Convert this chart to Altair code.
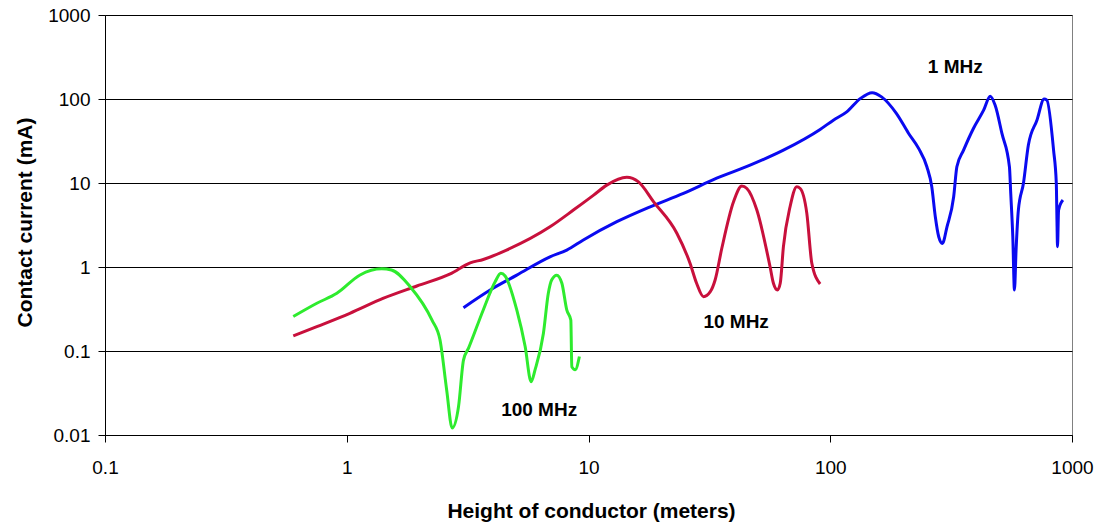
import altair as alt
import pandas as pd

# Contact current versus conductor height, three frequencies
mhz1_height = [3.04, 3.92, 5.05, 6.93, 8.13, 9.52, 13.1, 18.0, 24.7, 33.9, 46.6, 64.0, 90.8,
               103, 117, 133, 149, 163, 188, 211, 232, 251, 263, 272, 281, 291, 304, 324,
               334, 356, 391, 431, 459, 481, 513, 551, 558, 569, 578, 587, 600, 630, 660,
               716, 767, 787, 839, 861, 867, 871, 880, 917]
mhz1_current = [0.328, 0.533, 0.80, 1.32, 1.59, 2.10, 3.46, 5.21, 7.52, 11.4, 16.3, 24.6, 43.4,
                56, 70.3, 101, 119, 106, 67, 38.9, 25.8, 15.6, 9.0, 3.96, 2.29, 1.91, 3.01, 6.86,
                15.6, 24.6, 44.6, 73.6, 108, 84, 38.9, 15.6, 7.5, 2.29, 0.532, 1.59, 4.76, 10.0, 28.3,
                56, 100, 97, 24.6, 10.0, 3.3, 1.74, 4.76, 6.27]

mhz10_height = [0.601, 0.752, 1.03, 1.42, 1.95, 2.68, 3.24, 3.67, 4.58, 6.93, 8.66, 10.5, 11.9,
                14.4, 16.1, 18.6, 23.2, 26.3, 28.0, 29.9, 31.9, 33.4, 35.6, 39.8, 43.1, 45.2,
                49.7, 56.4, 58.2, 60.5, 62.1, 64.0, 68.2, 72.7, 75.1, 80.0, 83.9, 90.8]
mhz10_current = [0.151, 0.195, 0.281, 0.425, 0.594, 0.826, 1.12, 1.23, 1.59, 3.01, 4.76, 7.18, 9.44,
                 11.7, 10.3, 5.97, 2.52, 1.11, 0.64, 0.443, 0.508, 0.70, 1.67, 5.97, 9.18, 8.6,
                 4.76, 1.0, 0.64, 0.532, 0.64, 1.74, 5.21, 9.0, 8.6, 4.35, 1.11, 0.628]

mhz100_height = [0.601, 0.752, 0.910, 1.135, 1.395, 1.53, 1.83, 2.25, 2.43, 2.59, 2.73, 2.90, 3.04,
                 3.19, 3.67, 4.11, 4.34, 4.52, 5.05, 5.47, 5.79, 6.01, 6.51, 6.82, 7.04, 7.39,
                 7.76, 8.13, 8.45, 8.53, 8.81, 9.17]
mhz100_current = [0.257, 0.370, 0.486, 0.804, 0.95, 0.92, 0.583, 0.234, 0.136, 0.0344, 0.0121,
                  0.0218, 0.078, 0.108, 0.308, 0.668, 0.84, 0.78, 0.308, 0.113, 0.043, 0.0596,
                  0.163, 0.486, 0.70, 0.80, 0.64, 0.308, 0.234, 0.065, 0.060, 0.086]

label_text = ["1 MHz", "10 MHz", "100 MHz"]
label_height = [329, 40.8, 6.25]
label_current = [239, 0.222, 0.020]

series_names = ["1 MHz", "10 MHz", "100 MHz"]
series_colors = ["#0A0AF0", "#C8103C", "#2EEB2E"]

rows = []
for name, hs, cs in [("1 MHz", mhz1_height, mhz1_current),
                     ("10 MHz", mhz10_height, mhz10_current),
                     ("100 MHz", mhz100_height, mhz100_current)]:
    for i, (h, c) in enumerate(zip(hs, cs)):
        rows.append({"series": name, "height": h, "current": c, "idx": i})
curves = pd.DataFrame(rows)
labels = pd.DataFrame({"text": label_text, "height": label_height, "current": label_current})

FONT = "Liberation Sans"

x_enc = alt.X(
    "height:Q",
    scale=alt.Scale(type="log", domain=[0.1, 1000], nice=False),
    axis=alt.Axis(
        title="Height of conductor (meters)",
        values=[0.1, 1, 10, 100, 1000],
        format="~g",
        grid=False,
        labelFlush=False,
        domainColor="black",
        tickColor="black",
        tickSize=7,
        labelPadding=16,
        labelFontSize=19,
        labelFont=FONT,
        labelColor="black",
        titleFont=FONT,
        titleFontSize=21,
        titleFontWeight="bold",
        titleColor="black",
        titleBaseline="alphabetic",
        titleY=82,
        titleX=486,
    ),
)
y_enc = alt.Y(
    "current:Q",
    scale=alt.Scale(type="log", domain=[0.01, 1000], nice=False),
    axis=alt.Axis(
        title="Contact current (mA)",
        values=[0.01, 0.1, 1, 10, 100, 1000],
        format="~g",
        grid=True,
        labelFlush=False,
        gridColor="black",
        gridWidth=1,
        domainColor="black",
        tickColor="black",
        tickSize=7,
        labelPadding=8,
        labelFontSize=19,
        labelFont=FONT,
        labelColor="black",
        titleFont=FONT,
        titleFontSize=21,
        titleFontWeight="bold",
        titleColor="black",
        titleBaseline="alphabetic",
        titleX=-74,
        titleY=207,
    ),
)

lines = alt.Chart(curves).mark_line(strokeWidth=3, interpolate="monotone").encode(
    x=x_enc,
    y=y_enc,
    color=alt.Color("series:N", scale=alt.Scale(domain=series_names, range=series_colors), legend=None),
    detail="series:N",
    order="idx:Q",
)

texts = alt.Chart(labels).mark_text(
    font=FONT, fontSize=19, fontWeight="bold", color="black", align="center", baseline="middle"
).encode(
    x=alt.X("height:Q", scale=alt.Scale(type="log", domain=[0.1, 1000], nice=False)),
    y=alt.Y("current:Q", scale=alt.Scale(type="log", domain=[0.01, 1000], nice=False)),
    text="text:N",
)

chart = (
    alt.layer(lines, texts)
    .properties(
        width=967,
        height=420,
        padding={"left": 105, "top": 15, "right": 27, "bottom": 87},
        autosize=alt.AutoSizeParams(type="none"),
        background="white",
    )
    .configure_view(stroke="#808080", strokeWidth=1)
)

chart.save("out.html", embed_options={"renderer": "svg", "actions": False})
